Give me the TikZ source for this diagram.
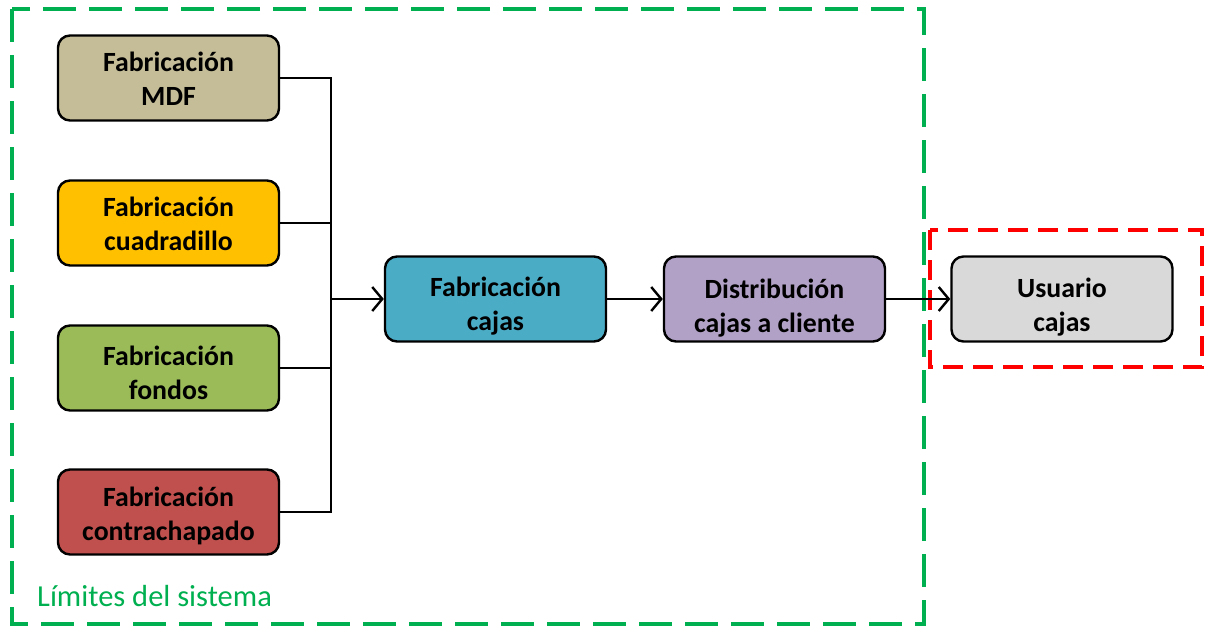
\documentclass[tikz,border=0pt]{standalone}
\usepackage{fontspec}
\setmainfont{Carlito}
\usetikzlibrary{arrows.meta}
\definecolor{mdfc}{HTML}{C4BD97}
\definecolor{cuadc}{HTML}{FFC000}
\definecolor{fondc}{HTML}{9BBB59}
\definecolor{contc}{HTML}{C0504D}
\definecolor{cajac}{HTML}{4BACC6}
\definecolor{distc}{HTML}{B2A1C7}
\definecolor{usuc}{HTML}{D9D9D9}
\definecolor{limgreen}{HTML}{00B050}
\definecolor{limred}{HTML}{FF0000}
% two centred lines, lowered by the optional amount (box size kept)
\newcommand\boxlines[3][0pt]{\raisebox{-#1}[\height][\depth]{\begin{tabular}{@{}c@{}}#2\\#3\end{tabular}}}
\tikzset{
  procbox/.style={draw=black, line width=2.4pt, rounded corners=12pt,
    minimum width=221pt, minimum height=85pt, inner sep=0pt,
    font=\fontsize{27.8}{34}\selectfont\bfseries},
  link/.style={draw=black, line width=2.2pt},
  flow/.style={link, -{Straight Barb[length=10pt,width=24pt,line width=2.4pt]}},
  sysbound/.style={draw=limgreen, line width=4pt, dash pattern=on 33pt off 13pt},
  extbound/.style={draw=limred, line width=4pt, dash pattern=on 20pt off 10pt},
}
\begin{document}
\begin{tikzpicture}[x=1pt, y=-1pt]
\useasboundingbox (0,0) rectangle (1205,626);
% system boundaries
\draw[sysbound] (12,9) rectangle (924,624);
\draw[extbound] (930,230) rectangle (1202,367);
\node[anchor=base west, text=limgreen, font=\fontsize{30.5}{36}\selectfont, inner sep=0pt] (lim) at (37,606) {Límites del sistema};
% process boxes
\node[procbox, fill=mdfc]  (mdf)  at (168.5,78)  {\boxlines[3.5pt]{Fabricación}{MDF}};
\node[procbox, fill=cuadc] (cuad) at (168.5,223) {\boxlines[3.5pt]{Fabricación}{cuadradillo}};
\node[procbox, fill=fondc] (fond) at (168.5,368) {\boxlines[8pt]{Fabricación}{fondos}};
\node[procbox, fill=contc] (cont) at (168.5,512) {\boxlines[4.5pt]{Fabricación}{contrachapado}};
\node[procbox, fill=cajac] (caja) at (495.5,299) {\boxlines[8pt]{Fabricación}{cajas}};
\node[procbox, fill=distc] (dist) at (774.5,299) {\boxlines[10pt]{Distribución}{cajas a cliente}};
\node[procbox, fill=usuc]  (usu)  at (1062,299)  {\boxlines[9pt]{Usuario}{cajas}};
% collector
\coordinate (j) at (331,299);
\draw[link] (mdf.east) -| (j);
\draw[link] (cuad.east) -| (j);
\draw[link] (fond.east) -| (j);
\draw[link] (cont.east) -| (j);
\draw[flow] (j) -- (caja.west);
\draw[flow] (caja.east) -- (dist.west);
\draw[flow] (dist.east) -- (usu.west);
\end{tikzpicture}
\end{document}
